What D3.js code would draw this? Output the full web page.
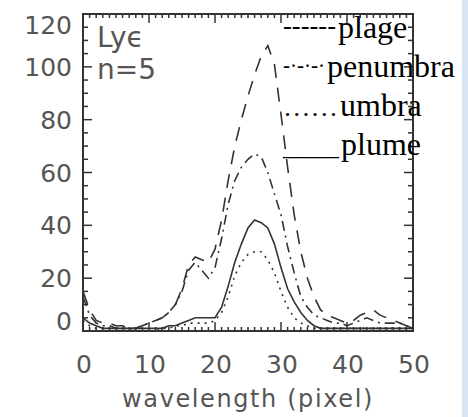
<!DOCTYPE html>
<html lang="en">
<head>
    <meta charset="UTF-8">
    <title>Ly epsilon n=5 profiles</title>
    <script src="https://d3js.org/d3.v7.min.js"></script>
    <style>
        body { margin: 0; background: #fff; }
        .tick-label { font-family: "DejaVu Sans", sans-serif; font-size: 25px; fill: #555; }
        .legend { font-family: "Liberation Serif", serif; font-size: 32px; fill: #000; }
        .series { fill: none; stroke: #333; stroke-width: 1.6px; }
    </style>
</head>
<body>
    <svg width="468" height="417"></svg>

    <script>
        // wavelength pixel index
        const pixels = [0, 1, 2, 3, 4, 5, 6, 7, 8, 9, 10, 11, 12, 13, 14, 15, 16, 17, 18, 19, 20,
            21, 22, 23, 24, 25, 26, 27, 28, 29, 30, 31, 32, 33, 34, 35, 36, 37, 38, 39, 40,
            41, 42, 43, 44, 45, 46, 47, 48, 49, 50];

        const plage = [15, 8, 4, 3, 3, 2, 2, 1, 1, 2, 3, 4, 5, 7, 10, 16, 25, 28, 27, 26, 31,
            42, 57, 70, 80, 89, 97, 104, 108, 101, 82, 62, 44, 30, 20, 13, 8, 6, 5, 4, 3,
            4, 6, 7, 8, 6, 5, 4, 3, 2, 1];
        const penumbra = [13, 6, 3, 2, 2, 1, 1, 1, 1, 2, 3, 4, 5, 7, 10, 15, 23, 26, 23, 20, 24,
            35, 48, 57, 62, 65, 67, 66, 60, 52, 44, 32, 22, 13, 9, 6, 5, 4, 3, 3, 2,
            3, 4, 5, 4, 3, 3, 3, 3, 2, 1];
        const umbra = [4, 2, 1, 1, 1, 1, 1, 1, 0, 0, 0, 0, 1, 1, 2, 2, 3, 3, 3, 3, 4,
            7, 13, 21, 26, 29, 30, 30, 27, 22, 15, 9, 5, 3, 2, 1, 1, 1, 1, 1, 1,
            1, 1, 1, 1, 1, 1, 1, 1, 1, 0];
        const plume = [5, 3, 2, 1, 1, 1, 1, 1, 1, 1, 1, 1, 1, 2, 2, 3, 4, 5, 5, 5, 5,
            9, 17, 26, 33, 39, 42, 41, 39, 33, 24, 16, 11, 7, 4, 2, 1, 1, 1, 1, 1,
            1, 1, 1, 1, 1, 1, 1, 1, 1, 1];

        const seriesNames = ["plage", "penumbra", "umbra", "plume"];
        const legendMarks = ["------", "-·-·-·", "……", "_____"];
        const dashes = ["14,10", "10,5,2,5", "2,5", null];

        const xTicks = [0, 10, 20, 30, 40, 50];
        const yTicks = [0, 20, 40, 60, 80, 100, 120];

        const svg = d3.select("svg");

        // right edge of the page shows a light blue strip
        svg.append("rect")
            .attr("x", 462).attr("y", 0)
            .attr("width", 6).attr("height", 417)
            .attr("fill", "#d8e5f3");

        const plotL = 83, plotR = 413, plotT = 14, plotB = 331;
        const x = d3.scaleLinear().domain([0, 50]).range([plotL, plotR]);
        const y = d3.scaleLinear().domain([0, 120]).range([plotB, plotT]);

        svg.append("clipPath").attr("id", "plot")
            .append("rect")
            .attr("x", plotL).attr("y", plotT)
            .attr("width", plotR - plotL).attr("height", plotB - plotT);

        const line = d3.line()
            .x((d, i) => x(pixels[i]))
            .y(d => y(d));

        const allSeries = [plage, penumbra, umbra, plume];
        const lines = svg.append("g").attr("clip-path", "url(#plot)");
        allSeries.forEach((s, i) => {
            lines.append("path")
                .attr("class", "series")
                .attr("d", line(s))
                .attr("stroke-dasharray", dashes[i]);
        });

        // ticks, all pointing inward
        const ticks = svg.append("g").attr("stroke", "#333").attr("stroke-width", 1.5);
        d3.range(0, 121, 5).forEach(v => {
            const len = v % 20 === 0 ? 9 : 5;
            ticks.append("line").attr("x1", plotL).attr("x2", plotL + len).attr("y1", y(v)).attr("y2", y(v));
            ticks.append("line").attr("x1", plotR).attr("x2", plotR - len).attr("y1", y(v)).attr("y2", y(v));
        });
        d3.range(0, 51, 1).forEach(v => {
            const len = v % 10 === 0 ? 9 : 4;
            ticks.append("line").attr("x1", x(v)).attr("x2", x(v)).attr("y1", plotB).attr("y2", plotB - len);
            ticks.append("line").attr("x1", x(v)).attr("x2", x(v)).attr("y1", plotT).attr("y2", plotT + len);
        });

        svg.append("rect")
            .attr("x", plotL).attr("y", plotT)
            .attr("width", plotR - plotL).attr("height", plotB - plotT)
            .attr("fill", "none").attr("stroke", "#333").attr("stroke-width", 2);

        // tick labels
        svg.selectAll(".ylab").data(yTicks).enter().append("text")
            .attr("class", "tick-label")
            .attr("x", 72)
            .attr("y", d => Math.min(Math.max(y(d), 25), 321))
            .attr("dy", "0.36em")
            .attr("text-anchor", "end")
            .text(d => d);

        svg.selectAll(".xlab").data(xTicks).enter().append("text")
            .attr("class", "tick-label")
            .attr("x", d => x(d) + 1)
            .attr("y", 373)
            .attr("text-anchor", "middle")
            .text(d => d);

        svg.append("text")
            .attr("class", "tick-label")
            .attr("x", 248).attr("y", 407)
            .attr("text-anchor", "middle")
            .style("font-size", "24px")
            .style("letter-spacing", "1.6px")
            .text("wavelength (pixel)");

        const note = svg.append("text").attr("class", "tick-label").style("font-size", "28px");
        note.append("tspan").attr("x", 97).attr("y", 47).text("Ly\u03F5");
        note.append("tspan").attr("x", 97).attr("y", 79).text("n=5");

        // legend: line styles written as characters, as in the original
        const legendWordX = [338, 327, 340, 341];
        const legendBase = [38, 77, 116, 155];
        const markSize = [26, 23, 26, 21];
        const markLift = [4, 4, 0, 0];
        seriesNames.forEach((name, i) => {
            const w = legendWordX[i] - 285;
            svg.append("text")
                .attr("class", "legend")
                .attr("x", 283).attr("y", legendBase[i] - markLift[i])
                .style("font-size", markSize[i] + "px")
                .attr("textLength", w)
                .attr("lengthAdjust", "spacingAndGlyphs")
                .text(legendMarks[i]);
            svg.append("text")
                .attr("class", "legend")
                .attr("x", legendWordX[i]).attr("y", legendBase[i])
                .text(name);
        });
    </script>
</body>
</html>
